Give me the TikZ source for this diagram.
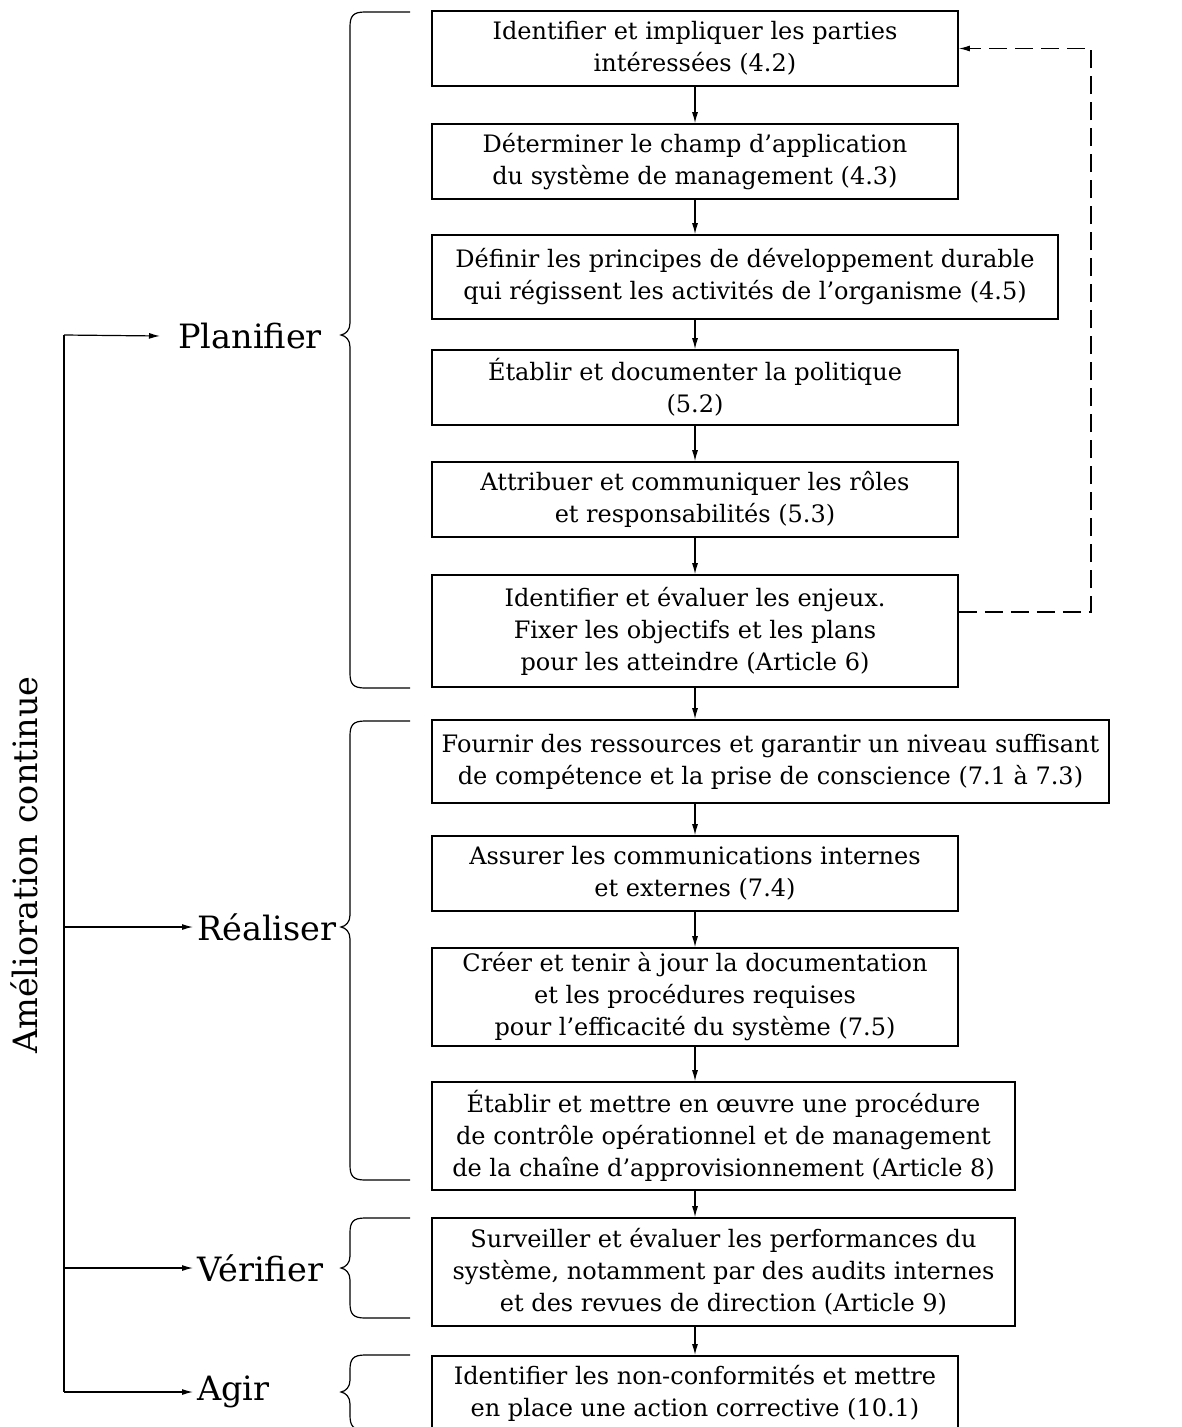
\documentclass[tikz,border=0pt]{standalone}
\usepackage{fontspec}
\setmainfont{DejaVu Serif}
\usetikzlibrary{arrows.meta}
\tikzset{
  stepbox/.style={draw, line width=1.6pt, inner sep=0pt, align=center,
    font=\fontsize{24}{32}\selectfont},
  phase/.style={inner sep=0pt, anchor=west, font=\fontsize{33.5}{40}\selectfont},
  flow/.style={line width=1.2pt, -{Latex[length=11pt,width=6pt]}}
}
% brace in front of a group of steps: top, tip, bottom
\newcommand{\phasebrace}[3]{%
  \draw[line width=1.2pt] (410,#1) -- (365,#1) .. controls (353,#1) and (350,#1+4) .. (350,#1+15)
    -- (350,#2-12) .. controls (350,#2-5) and (346,#2-1) .. (341,#2)
    .. controls (346,#2+1) and (350,#2+5) .. (350,#2+12)
    -- (350,#3-15) .. controls (350,#3-4) and (353,#3) .. (365,#3) -- (410,#3);}
\begin{document}
\begin{tikzpicture}[x=1pt, y=-1pt]
    \useasboundingbox (0,0) rectangle (1181,1427);
    \clip (0,0) rectangle (1181,1427);
    % Planifier
    \node[stepbox, minimum width=526pt, minimum height=75pt] (ident) at (695,48.5) {Identifier et impliquer les parties\\intéressées (4.2)};
    \node[stepbox, minimum width=526pt, minimum height=75pt] (champ) at (695,161.5) {Déterminer le champ d'application\\du système de management (4.3)};
    \node[stepbox, minimum width=626pt, minimum height=84pt] (principes) at (745,277) {Définir les principes de développement durable\\qui régissent les activités de l'organisme (4.5)};
    \node[stepbox, minimum width=526pt, minimum height=75pt] (politique) at (695,387.5) {Établir et documenter la politique\\(5.2)};
    \node[stepbox, minimum width=526pt, minimum height=75pt] (roles) at (695,499.5) {Attribuer et communiquer les rôles\\et responsabilités (5.3)};
    \node[stepbox, minimum width=526pt, minimum height=112pt] (enjeux) at (695,631) {Identifier et évaluer les enjeux.\\Fixer les objectifs et les plans\\pour les atteindre (Article 6)};
    % Réaliser
    \node[stepbox, minimum width=677pt, minimum height=83pt] (ressources) at (770.5,761.5) {Fournir des ressources et garantir un niveau suffisant\\de compétence et la prise de conscience (7.1 à 7.3)};
    \node[stepbox, minimum width=526pt, minimum height=75pt] (comm) at (695,873.5) {Assurer les communications internes\\et externes (7.4)};
    \node[stepbox, minimum width=526pt, minimum height=98pt] (docu) at (695,997) {Créer et tenir à jour la documentation\\et les procédures requises\\pour l'efficacité du système (7.5)};
    \node[stepbox, minimum width=583pt, minimum height=108pt] (opera) at (723.5,1136) {Établir et mettre en œuvre une procédure\\de contrôle opérationnel et de management\\de la chaîne d'approvisionnement (Article 8)};
    % Vérifier, Agir
    \node[stepbox, minimum width=583pt, minimum height=108pt] (surv) at (723.5,1272) {Surveiller et évaluer les performances du\\système, notamment par des audits internes\\et des revues de direction (Article 9)};
    \node[stepbox, minimum width=526pt, minimum height=112pt, anchor=north] (nonconf) at (695,1355) {Identifier les non-conformités et mettre\\en place une action corrective (10.1)\\ \strut};
    \foreach \a/\b in {ident/champ, champ/principes, principes/politique, politique/roles,
        roles/enjeux, enjeux/ressources, ressources/comm, comm/docu, docu/opera,
        opera/surv, surv/nonconf}
      \draw[flow] (\a.south -| 695,0) -- (\b.north -| 695,0);
    \draw[flow, dashed, dash pattern=on 18pt off 8pt] (enjeux.east |- 0,612) -- (1091,612) |- (ident.east);
    % braces
    \phasebrace{12}{335}{688}
    \phasebrace{721}{927}{1180}
    \phasebrace{1218}{1268}{1318}
    \phasebrace{1355}{1392}{1430}
    % phases
    \node[phase] (planifier) at (178,336) {Planifier};
    \node[phase] (realiser) at (197,927) {Réaliser};
    \node[phase] (verifier) at (197,1268) {Vérifier};
    \node[phase] (agir) at (197,1392) {Agir};
    \node[phase, anchor=center, rotate=90] (amelio) at (24,865) {Amélioration continue};
    \coordinate (lp) at (64,335);
    \coordinate (lr) at (64,927);
    \coordinate (lv) at (64,1268);
    \coordinate (la) at (64,1392);
    \draw[line width=1.2pt] (lp) -- (la);
    \draw[flow] (lp) -- ([xshift=-18pt]planifier.west);
    \draw[flow] (lr) -- ([xshift=-4pt]realiser.west);
    \draw[flow] (lv) -- ([xshift=-4pt]verifier.west);
    \draw[flow] (la) -- ([xshift=-4pt]agir.west);
\end{tikzpicture}
\end{document}
